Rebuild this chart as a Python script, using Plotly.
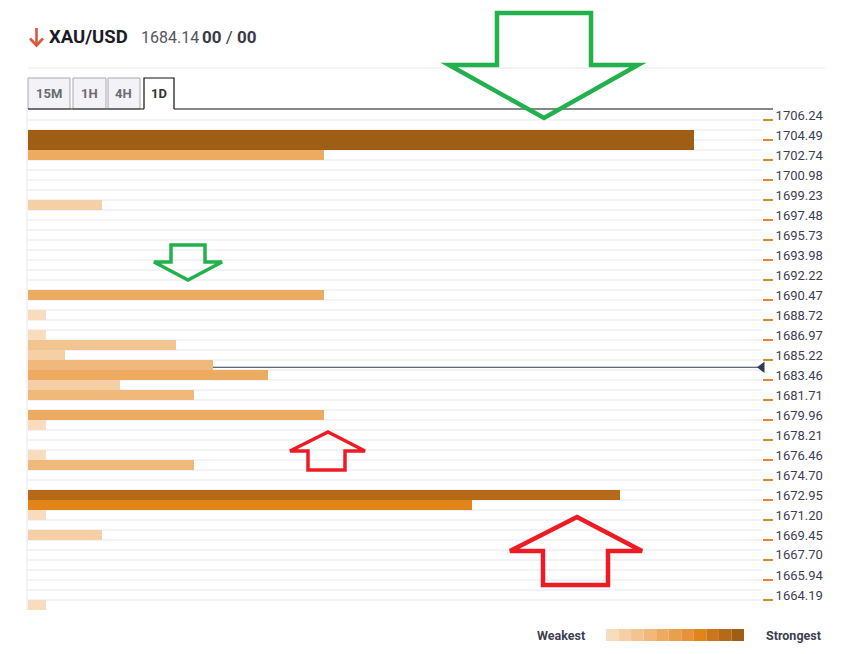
import plotly.graph_objects as go

# ---------------- data ----------------
SYMBOL = "XAU/USD"
PRICE = 1684.14
PRICE_TEXT = "1684.14"
CHANGE_TEXT = ["00", "00"]
TABS = ["15M", "1H", "4H", "1D"]
ACTIVE_TAB = "1D"

TICK_LABELS = ["1706.24", "1704.49", "1702.74", "1700.98", "1699.23", "1697.48",
               "1695.73", "1693.98", "1692.22", "1690.47", "1688.72", "1686.97",
               "1685.22", "1683.46", "1681.71", "1679.96", "1678.21", "1676.46",
               "1674.70", "1672.95", "1671.20", "1669.45", "1667.70", "1665.94",
               "1664.19"]

LEVELS = [1704.49, 1703.61, 1702.74, 1698.36, 1690.47, 1688.72, 1686.97, 1686.09,
          1685.22, 1684.34, 1683.46, 1682.59, 1681.71, 1679.96, 1679.08, 1676.46,
          1675.58, 1672.95, 1672.07, 1671.20, 1669.45, 1663.31]
STRENGTH = [36, 36, 16, 4, 16, 1, 1, 8, 2, 10, 13, 5, 9, 16, 1, 1, 9, 32, 24, 1, 4, 1]

PALETTE = ["#F8DCBE", "#F5CFA5", "#F2C48F", "#F0B87A", "#EDAB62", "#E99F4D",
           "#E69338", "#E28519", "#CB7618", "#B56A18", "#9E5E14"]

# ---------------- geometry helpers ----------------
OFF = 8  # page body margin offset
W, H = 843 - OFF, 654 - OFF
PL, PR, PT, PB = 28, 762, 110, 610


def px(x):
    return (x - PL) / (PR - PL)


def py(y):
    return (PB - y) / (PB - PT)


def path(points, close=True):
    s = "M " + " L ".join(f"{px(a):.5f},{py(b):.5f}" for a, b in points)
    return s + (" Z" if close else "")


tick_vals = [float(t) for t in TICK_LABELS]
step = (tick_vals[0] - tick_vals[-1]) / (2 * (len(tick_vals) - 1))
n_rows = 2 * len(tick_vals)
top = tick_vals[0] + step / 2
bottom = top - n_rows * step
boundaries = [top - k * step for k in range(n_rows + 1)]
minor_ticks = [v - step / 2 for v in tick_vals]
XMAX = 39.7

smax = max(STRENGTH)
colors = [PALETTE[min(10, int(s / smax * 10 + 0.5))] for s in STRENGTH]

fig = go.Figure()
fig.add_trace(go.Bar(x=STRENGTH, y=LEVELS, orientation="h", width=step,
                     marker=dict(color=colors, line=dict(width=0)),
                     hoverinfo="x+y", showlegend=False))
fig.add_trace(go.Scatter(x=[XMAX], y=[PRICE], yaxis="y2", mode="markers",
                         marker=dict(symbol="triangle-left", size=10, color="#2F3B55"),
                         cliponaxis=False, showlegend=False, hoverinfo="y"))

shapes = []
# price line
shapes.append(dict(type="line", xref="x domain", yref="y", x0=0, x1=1, y0=PRICE, y1=PRICE,
                   line=dict(color="#2F3B55", width=1), layer="below"))
# header separator
shapes.append(dict(type="line", xref="paper", yref="paper", x0=px(28), x1=px(825),
                   y0=py(68), y1=py(68), line=dict(color="#E8E8EE", width=1)))
# scrollbar hint
shapes.append(dict(type="rect", xref="paper", yref="paper", x0=px(835), x1=px(845),
                   y0=py(-10), y1=py(55), line=dict(width=0), fillcolor="#F0F0F0"))
# header down-arrow icon
shapes.append(dict(type="path", xref="paper", yref="paper",
                   path=path([(36.5, 28), (36.5, 45)], close=False),
                   line=dict(color="#D9583F", width=2.6)))
shapes.append(dict(type="path", xref="paper", yref="paper",
                   path=path([(30, 38.5), (36.5, 45.5), (43, 38.5)], close=False),
                   line=dict(color="#D9583F", width=2.6)))
# tabs
tab_x = [(28, 70), (73, 106), (108, 140), (144, 174)]
annotations = []
for name, (a, b) in zip(TABS, tab_x):
    active = name == ACTIVE_TAB
    if active:
        shapes.append(dict(type="path", xref="paper", yref="paper",
                           path=path([(a, 109), (a, 78), (b, 78), (b, 109)], close=False),
                           line=dict(color="#111111", width=1.2), fillcolor="white"))
    else:
        shapes.append(dict(type="rect", xref="paper", yref="paper", x0=px(a), x1=px(b),
                           y0=py(109), y1=py(78), fillcolor="#F2F2F7",
                           line=dict(color="#A8A8B0", width=1)))
    annotations.append(dict(xref="paper", yref="paper", x=px((a + b) / 2), y=py(94),
                            xanchor="center", yanchor="middle",
                            text=f"<b>{name}</b>", showarrow=False,
                            font=dict(family="Roboto", size=13,
                                      color="#333333" if active else "#6A6A72")))
# black baseline under tabs / top of plot
shapes.append(dict(type="line", xref="paper", yref="paper", x0=px(28), x1=px(144),
                   y0=py(109), y1=py(109), line=dict(color="#111111", width=1.2)))
shapes.append(dict(type="line", xref="paper", yref="paper", x0=px(174), x1=px(773),
                   y0=py(109), y1=py(109), line=dict(color="#111111", width=1.2)))

# legend swatches
sw0, sw1 = 606, 744
sw = (sw1 - sw0) / len(PALETTE)
for i, c in enumerate(PALETTE):
    shapes.append(dict(type="rect", xref="paper", yref="paper",
                       x0=px(sw0 + i * sw), x1=px(sw0 + (i + 1) * sw),
                       y0=py(641), y1=py(629), fillcolor=c, line=dict(width=0)))

# arrows
GREEN, RED = "#22B14C", "#ED1C24"
arrows = [
    ([(497, 13), (591, 13), (591, 65), (638, 65), (544, 118), (449, 65), (497, 65)], GREEN, 4.5),
    ([(171, 245), (205, 245), (205, 262), (222, 262), (188, 280), (154, 262), (171, 262)], GREEN, 3.5),
    ([(328, 432), (365, 451), (345, 451), (345, 470), (308, 470), (308, 451), (290, 451)], RED, 3.5),
    ([(577, 517), (642, 551), (608, 551), (608, 585), (543, 585), (543, 551), (510, 551)], RED, 4.5),
]
for pts, col, wdt in arrows:
    shapes.append(dict(type="path", xref="paper", yref="paper", path=path(pts),
                       line=dict(color=col, width=wdt), fillcolor="rgba(0,0,0,0)"))

# header texts
annotations += [
    dict(xref="paper", yref="paper", x=px(47), y=py(37), xanchor="left", yanchor="middle",
         text=f"<b>{SYMBOL}</b>", showarrow=False, font=dict(family="Roboto", size=18.5, color="#1C1C28")),
    dict(xref="paper", yref="paper", x=px(139), y=py(37), xanchor="left", yanchor="middle",
         text=PRICE_TEXT, showarrow=False, font=dict(family="Roboto", size=16, color="#555560")),
    dict(xref="paper", yref="paper", x=px(200), y=py(37), xanchor="left", yanchor="middle",
         text=f"<b>{CHANGE_TEXT[0]}</b> / <b>{CHANGE_TEXT[1]}</b>", showarrow=False,
         font=dict(family="Roboto", size=17, color="#3A3A46")),
    dict(xref="paper", yref="paper", x=px(587), y=py(635), xanchor="right", yanchor="middle",
         text="<b>Weakest</b>", showarrow=False, font=dict(family="Roboto", size=12.5, color="#3D4052")),
    dict(xref="paper", yref="paper", x=px(764), y=py(635), xanchor="left", yanchor="middle",
         text="<b>Strongest</b>", showarrow=False, font=dict(family="Roboto", size=12.5, color="#3D4052")),
]

fig.update_layout(
    width=W, height=H,
    margin=dict(l=PL - OFF, r=843 - PR, t=PT - OFF, b=654 - PB, pad=0),
    paper_bgcolor="white", plot_bgcolor="white",
    bargap=0,
    xaxis=dict(range=[0, XMAX], visible=False, fixedrange=True),
    yaxis=dict(range=[bottom, top], tickmode="array", tickvals=boundaries,
               showgrid=True, gridcolor="#F2F2F7", gridwidth=2,
               showticklabels=False, ticks="", zeroline=False,
               showline=True, linecolor="#F2F2F7", linewidth=2),
    yaxis2=dict(range=[bottom, top], overlaying="y", side="right",
                tickmode="array", tickvals=tick_vals, ticktext=TICK_LABELS,
                ticks="outside", ticklen=10, tickcolor="rgba(0,0,0,0)",
                minor=dict(tickmode="array", tickvals=minor_ticks, ticks="outside",
                           ticklen=10, tickcolor="#E0892A", tickwidth=1.5, showgrid=False),
                showgrid=False, zeroline=False, showline=False,
                tickfont=dict(family="Roboto", size=13, color="#3D4052")),
    shapes=shapes,
    annotations=annotations,
    font=dict(family="Roboto"),
)

fig.write_html("out.html")
